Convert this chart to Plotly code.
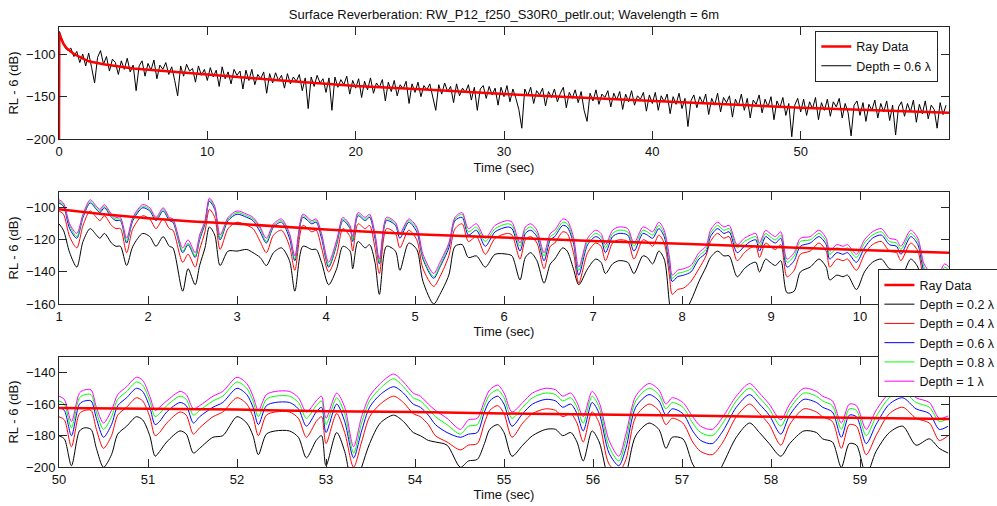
import plotly.graph_objects as go

# ---------------- Panel 1 : full record ----------------
t1_ray = [0, 0.02, 0.1, 0.3, 0.5, 1, 2, 3, 5, 7, 10, 15, 20, 25, 30, 35, 40, 45, 50, 55, 60]
rl1_ray = [-200, -75, -80, -88, -93, -100, -108.5, -112, -117, -120, -124, -131, -137.5,
           -142, -147, -151, -155, -159, -163, -166, -169]

t1_step = 0.2
rl1_depth06 = [
    # 0 - 10 s
    -73, -82, -92, -96, -93, -103, -97, -110, -100, -114,
    -99, -116, -134, -104, -96, -112, -103, -120, -106, -110,
    -124, -108, -118, -105, -121, -113, -143, -114, -108, -126,
    -111, -119, -107, -129, -113, -118, -110, -124, -115, -131,
    -149, -114, -126, -112, -120, -117, -133, -114, -125, -118,
    # 10 - 20 s
    -131, -116, -127, -119, -138, -115, -129, -121, -135, -118,
    -125, -120, -141, -119, -131, -118, -136, -124, -129, -121,
    -146, -123, -134, -122, -131, -125, -140, -123, -135, -127,
    -132, -124, -143, -128, -164, -127, -138, -125, -134, -129,
    -145, -128, -166, -127, -139, -130, -136, -126, -147, -131,
    # 20 - 30 s
    -140, -129, -151, -132, -142, -128, -146, -134, -139, -130,
    -155, -133, -144, -131, -149, -136, -141, -132, -158, -135,
    -145, -133, -150, -137, -142, -135, -152, -166, -136, -147,
    -134, -144, -138, -157, -135, -149, -140, -145, -136, -154,
    -139, -166, -141, -137, -152, -138, -148, -140, -160, -139,
    # 30 - 40 s
    -150, -137, -156, -141, -152, -165, -187, -141, -149, -139,
    -158, -143, -148, -140, -161, -144, -151, -141, -156, -146,
    -139, -163, -145, -152, -142, -157, -144, -166, -179, -146,
    -155, -142, -159, -147, -151, -143, -162, -146, -154, -144,
    -165, -147, -156, -143, -160, -149, -153, -145, -167, -148,
    # 40 - 50 s
    -158, -145, -166, -149, -156, -147, -170, -150, -159, -146,
    -164, -152, -185, -155, -148, -163, -150, -158, -147, -171,
    -152, -160, -146, -168, -151, -157, -149, -174, -153, -161,
    -147, -166, -152, -175, -154, -159, -148, -169, -153, -162,
    -150, -177, -155, -163, -151, -172, -158, -197, -160, -152,
    # 50 - 60 s
    -168, -153, -172, -156, -164, -151, -177, -157, -166, -153,
    -173, -156, -162, -152, -175, -158, -169, -196, -160, -155,
    -172, -157, -179, -159, -166, -154, -175, -158, -168, -155,
    -178, -160, -195, -162, -156, -173, -158, -168, -154, -180,
    -159, -170, -155, -176, -160, -165, -187, -157, -171, -160,
]
t1 = [round(i * t1_step, 2) for i in range(len(rl1_depth06))]

# ---------------- Panel 2 : 1 - 11 s ----------------
t2 = [1.00, 1.05, 1.12, 1.20, 1.27, 1.35, 1.42, 1.46, 1.51, 1.59,
      1.64, 1.69, 1.76, 1.83, 1.94, 2.02, 2.09, 2.17, 2.24, 2.28,
      2.39, 2.45, 2.53, 2.58, 2.64, 2.69, 2.75, 2.81, 2.90, 3.00,
      3.11, 3.18, 3.26, 3.33, 3.41, 3.50, 3.59, 3.65, 3.74, 3.84,
      3.89, 3.95, 4.03, 4.12, 4.19, 4.27, 4.30, 4.36, 4.44, 4.49,
      4.55, 4.60, 4.68, 4.78, 4.83, 4.93, 5.02, 5.09, 5.21, 5.28,
      5.38, 5.45, 5.53, 5.60, 5.69, 5.79, 5.90, 6.04, 6.09, 6.18,
      6.24, 6.30, 6.37, 6.45, 6.52, 6.57, 6.66, 6.71, 6.78, 6.84,
      6.94, 7.03, 7.09, 7.14, 7.22, 7.29, 7.39, 7.46, 7.56, 7.61,
      7.67, 7.74, 7.80, 7.86, 7.89, 7.95, 8.02, 8.10, 8.19, 8.27,
      8.32, 8.40, 8.47, 8.53, 8.62, 8.70, 8.77, 8.83, 8.87, 8.94,
      8.99, 9.05, 9.11, 9.18, 9.26, 9.33, 9.44, 9.54, 9.62, 9.66,
      9.74, 9.81, 9.86, 9.96, 10.05, 10.14, 10.24, 10.33, 10.41, 10.46,
      10.57, 10.65, 10.72, 10.80, 10.87, 10.95, 11.00]

rl2_d02 = [-110, -114, -128, -137, -121, -113, -117, -119, -116, -122,
           -124, -124, -136, -124, -116, -118, -124, -118, -124, -125,
           -152, -138, -148, -136, -125, -112, -117, -136, -127, -127,
           -126, -128, -131, -136, -128, -125, -133, -152, -124, -126,
           -126, -134, -148, -138, -124, -127, -138, -121, -125, -123,
           -134, -154, -124, -127, -139, -122, -126, -146, -160, -154,
           -142, -124, -123, -131, -130, -137, -129, -129, -130, -145,
           -131, -128, -133, -147, -135, -132, -125, -127, -138, -148,
           -138, -132, -134, -141, -135, -133, -134, -141, -130, -131,
           -135, -127, -132, -160, -170, -170, -166, -158, -146, -137,
           -131, -127, -130, -130, -143, -138, -135, -134, -140, -132,
           -134, -136, -133, -153, -152, -140, -137, -132, -137, -145,
           -142, -143, -142, -151, -140, -134, -132, -138, -139, -144,
           -132, -137, -155, -160, -162, -155, -157]
rl2_d04 = [-102, -104, -118, -125, -111, -102, -106, -108, -105, -111,
           -113, -113, -128, -113, -105, -107, -113, -107, -113, -114,
           -134, -129, -137, -126, -115, -101, -106, -126, -113, -109,
           -111, -113, -121, -128, -117, -114, -124, -139, -111, -115,
           -114, -125, -140, -129, -113, -118, -127, -110, -113, -111,
           -125, -141, -113, -116, -125, -114, -120, -138, -149, -143,
           -130, -113, -110, -121, -118, -129, -119, -116, -117, -132,
           -120, -118, -122, -138, -124, -122, -115, -116, -128, -147,
           -128, -122, -124, -133, -122, -120, -121, -132, -120, -121,
           -124, -117, -122, -143, -154, -151, -150, -146, -138, -130,
           -121, -116, -119, -118, -133, -128, -125, -124, -131, -122,
           -124, -126, -123, -143, -139, -129, -127, -122, -127, -137,
           -132, -133, -132, -139, -129, -123, -121, -127, -128, -133,
           -122, -127, -145, -151, -153, -145, -147]
rl2_d06 = [-97, -99, -113, -119, -106, -97, -101, -103, -100, -106,
           -108, -108, -122, -108, -100, -102, -108, -102, -108, -109,
           -128, -123, -131, -120, -110, -96, -101, -120, -108, -104,
           -106, -108, -115, -122, -112, -109, -119, -133, -106, -110,
           -109, -119, -137, -123, -108, -113, -121, -105, -108, -106,
           -119, -135, -108, -111, -119, -109, -115, -132, -144, -137,
           -125, -108, -106, -117, -114, -124, -115, -112, -113, -127,
           -116, -114, -118, -133, -120, -118, -111, -112, -122, -142,
           -123, -118, -120, -128, -118, -116, -117, -127, -116, -117,
           -119, -113, -118, -137, -146, -143, -142, -140, -132, -128,
           -118, -113, -116, -115, -128, -124, -121, -120, -127, -118,
           -120, -122, -119, -137, -133, -124, -122, -118, -123, -132,
           -128, -129, -128, -134, -125, -119, -117, -123, -124, -129,
           -118, -123, -140, -146, -148, -140, -142]
rl2_d08 = [-96, -98, -111, -118, -105, -96, -100, -102, -99, -105,
           -107, -107, -121, -107, -99, -101, -107, -101, -107, -108,
           -127, -122, -130, -119, -109, -95, -100, -119, -107, -103,
           -105, -107, -113, -121, -111, -108, -117, -132, -105, -109,
           -108, -117, -136, -122, -107, -112, -120, -104, -107, -105,
           -117, -134, -107, -110, -117, -108, -113, -131, -143, -136,
           -123, -107, -104, -115, -112, -121, -113, -110, -111, -124,
           -114, -112, -116, -130, -118, -116, -109, -110, -120, -139,
           -121, -116, -118, -125, -116, -114, -115, -124, -114, -115,
           -117, -111, -116, -134, -144, -141, -140, -138, -130, -126,
           -116, -111, -114, -113, -125, -121, -119, -118, -124, -116,
           -118, -120, -117, -134, -130, -121, -120, -116, -121, -129,
           -125, -126, -125, -131, -122, -117, -115, -121, -122, -126,
           -116, -121, -137, -143, -145, -137, -139]
rl2_d10 = [-95, -97, -110, -116, -104, -95, -99, -101, -98, -104,
           -106, -106, -119, -106, -98, -100, -106, -100, -106, -107,
           -125, -120, -128, -117, -108, -94, -99, -117, -106, -102,
           -104, -106, -112, -119, -110, -107, -116, -130, -104, -108,
           -107, -116, -134, -120, -106, -111, -118, -103, -106, -104,
           -116, -132, -106, -109, -116, -107, -112, -129, -141, -134,
           -122, -106, -103, -113, -110, -119, -111, -108, -109, -122,
           -112, -110, -114, -128, -116, -114, -107, -108, -118, -137,
           -119, -114, -116, -123, -114, -112, -113, -122, -112, -113,
           -115, -109, -114, -131, -142, -139, -138, -136, -128, -124,
           -114, -109, -112, -111, -123, -119, -117, -116, -122, -114,
           -116, -118, -115, -132, -128, -119, -118, -114, -119, -127,
           -123, -124, -123, -129, -120, -115, -113, -119, -120, -124,
           -114, -119, -135, -141, -143, -135, -137]
t2_ray = [1, 1.5, 2, 2.5, 3, 4, 5, 6, 7, 8, 9, 10, 11]
rl2_ray = [-101, -104, -106.5, -108.5, -110, -113.5, -116.5, -118.7, -120.7, -122.5,
           -124.5, -126.3, -128]

# ---------------- Panel 3 : 50 - 60 s ----------------
t3 = [50.00, 50.06, 50.14, 50.23, 50.29, 50.36, 50.42, 50.50, 50.59, 50.66,
      50.76, 50.87, 50.94, 51.02, 51.08, 51.13, 51.21, 51.36, 51.43, 51.51,
      51.58, 51.73, 51.84, 52.00, 52.11, 52.18, 52.24, 52.33, 52.43, 52.59,
      52.69, 52.78, 52.89, 52.95, 53.00, 53.12, 53.21, 53.31, 53.40, 53.49,
      53.61, 53.76, 53.87, 53.98, 54.06, 54.15, 54.23, 54.36, 54.51, 54.60,
      54.70, 54.78, 54.84, 54.93, 55.00, 55.09, 55.21, 55.32, 55.47, 55.58,
      55.66, 55.75, 55.82, 55.89, 55.99, 56.07, 56.18, 56.29, 56.37, 56.48,
      56.63, 56.74, 56.82, 56.89, 57.01, 57.12, 57.21, 57.34, 57.46, 57.61,
      57.76, 57.87, 57.98, 58.11, 58.21, 58.37, 58.51, 58.58, 58.69, 58.79,
      58.88, 58.96, 59.07, 59.18, 59.33, 59.48, 59.63, 59.78, 59.89, 59.99]

rl3_d02 = [-180, -182, -199, -177, -175, -176, -188, -200, -192, -179,
           -174, -168, -170, -180, -193, -190, -184, -177, -179, -191,
           -188, -181, -180, -168, -172, -180, -192, -179, -177, -177,
           -181, -194, -183, -180, -199, -178, -190, -215, -200, -185,
           -172, -167, -171, -178, -180, -183, -184, -186, -200, -196,
           -195, -185, -176, -173, -178, -193, -186, -180, -176, -176,
           -180, -178, -184, -196, -177, -184, -208, -215, -205, -180,
           -172, -176, -188, -181, -182, -198, -205, -210, -198, -181,
           -172, -178, -185, -193, -185, -177, -178, -182, -184, -200,
           -185, -186, -205, -190, -178, -174, -186, -182, -188, -191]
rl3_d04 = [-168, -170, -187, -166, -164, -164, -176, -188, -180, -167,
           -162, -156, -158, -168, -180, -178, -172, -165, -167, -179,
           -175, -168, -165, -156, -160, -168, -180, -167, -165, -165,
           -169, -181, -171, -168, -185, -166, -178, -200, -184, -168,
           -160, -155, -159, -166, -168, -173, -180, -184, -189, -186,
           -185, -172, -164, -161, -166, -181, -172, -166, -163, -164,
           -168, -166, -172, -184, -165, -172, -198, -203, -195, -168,
           -160, -164, -173, -169, -172, -184, -190, -192, -184, -168,
           -160, -166, -173, -186, -173, -163, -165, -168, -171, -188,
           -173, -174, -192, -180, -166, -162, -169, -172, -183, -180]
rl3_d06 = [-162, -164, -180, -160, -158, -158, -169, -181, -173, -161,
           -156, -150, -152, -162, -173, -171, -165, -159, -161, -172,
           -168, -162, -159, -150, -154, -162, -173, -161, -159, -159,
           -163, -174, -165, -162, -178, -160, -171, -194, -177, -162,
           -154, -149, -153, -160, -162, -167, -173, -178, -181, -179,
           -178, -165, -158, -155, -160, -174, -166, -160, -157, -158,
           -162, -160, -166, -177, -159, -166, -191, -199, -188, -162,
           -154, -158, -167, -163, -166, -177, -183, -185, -177, -162,
           -154, -160, -167, -179, -167, -157, -159, -162, -165, -181,
           -167, -168, -185, -173, -160, -156, -163, -166, -176, -174]
rl3_d08 = [-158, -160, -175, -156, -154, -154, -165, -176, -168, -157,
           -152, -146, -148, -158, -168, -166, -161, -155, -157, -167,
           -164, -158, -155, -146, -150, -158, -168, -157, -155, -155,
           -159, -169, -161, -158, -173, -156, -166, -191, -172, -158,
           -150, -144, -149, -156, -158, -163, -168, -173, -179, -174,
           -173, -161, -154, -151, -156, -169, -162, -156, -153, -154,
           -158, -156, -162, -172, -155, -162, -187, -196, -183, -158,
           -150, -154, -163, -159, -162, -172, -178, -180, -172, -158,
           -150, -156, -163, -174, -163, -153, -155, -158, -161, -176,
           -163, -164, -180, -168, -156, -152, -159, -162, -171, -169]
rl3_d10 = [-155, -157, -171, -153, -151, -151, -162, -172, -164, -154,
           -149, -143, -145, -155, -164, -162, -158, -152, -154, -163,
           -161, -155, -152, -143, -147, -155, -164, -154, -152, -152,
           -156, -165, -158, -155, -169, -153, -162, -187, -168, -155,
           -147, -141, -146, -153, -155, -160, -164, -169, -176, -170,
           -169, -158, -151, -148, -153, -165, -159, -153, -150, -151,
           -155, -153, -159, -168, -152, -159, -183, -193, -179, -155,
           -147, -151, -160, -156, -159, -168, -174, -176, -168, -155,
           -147, -153, -160, -170, -160, -150, -152, -155, -158, -172,
           -160, -161, -176, -164, -153, -149, -156, -159, -169, -167.5]
t3_ray = [50, 51, 52, 53, 54, 55, 56, 57, 58, 59, 60]
rl3_ray = [-162.5, -163, -163.5, -164.5, -165, -166, -166.5, -167.3, -168, -168.8, -169.5]

depth_names = ["Depth = 0.2 λ", "Depth = 0.4 λ", "Depth = 0.6 λ", "Depth = 0.8 λ", "Depth = 1 λ"]
depth_colors = ["#000000", "#ff0000", "#0000ff", "#00ff00", "#ff00ff"]

FONT = "Liberation Sans, Arial, sans-serif"
AX = "#262626"
TXT = "#111111"

fig = go.Figure()

# Panel 1
fig.add_trace(go.Scatter(x=t1, y=rl1_depth06, mode="lines", name="Depth = 0.6 λ",
                         line=dict(color="#000000", width=1), xaxis="x", yaxis="y",
                         legend="legend", legendrank=2))
fig.add_trace(go.Scatter(x=t1_ray, y=rl1_ray, mode="lines", name="Ray Data",
                         line=dict(color="#ff0000", width=2.5), xaxis="x", yaxis="y",
                         legend="legend", legendrank=1))

# Panel 2
for i, (vals, nm, col) in enumerate(zip([rl2_d02, rl2_d04, rl2_d06, rl2_d08, rl2_d10],
                                       depth_names, depth_colors)):
    fig.add_trace(go.Scatter(x=t2, y=vals, mode="lines", name=nm,
                             line=dict(color=col, width=1, shape="spline", smoothing=0.8),
                             xaxis="x2", yaxis="y2", legend="legend2", legendrank=2 + i))
fig.add_trace(go.Scatter(x=t2_ray, y=rl2_ray, mode="lines", name="Ray Data",
                         line=dict(color="#ff0000", width=2.5), xaxis="x2", yaxis="y2",
                         legend="legend2", legendrank=1))

# Panel 3
for vals, nm, col in zip([rl3_d02, rl3_d04, rl3_d06, rl3_d08, rl3_d10], depth_names, depth_colors):
    fig.add_trace(go.Scatter(x=t3, y=vals, mode="lines", name=nm, showlegend=False,
                             line=dict(color=col, width=1, shape="spline", smoothing=0.8),
                             xaxis="x3", yaxis="y3"))
fig.add_trace(go.Scatter(x=t3_ray, y=rl3_ray, mode="lines", name="Ray Data", showlegend=False,
                         line=dict(color="#ff0000", width=2.5), xaxis="x3", yaxis="y3"))


def xax(rng, ticks, anchor):
    return dict(range=rng, tickvals=ticks, anchor=anchor, domain=[0, 1],
                showline=True, linecolor=AX, linewidth=1, mirror="ticks",
                ticks="inside", ticklen=8, tickcolor=AX, showgrid=False, zeroline=False,
                tickfont=dict(family=FONT, size=13, color=TXT),
                title=dict(text="Time (sec)", font=dict(family=FONT, size=13, color=TXT),
                           standoff=4),
                automargin=False)


def yax(rng, ticks, anchor, dom):
    return dict(range=rng, tickvals=ticks, anchor=anchor, domain=dom,
                showline=True, linecolor=AX, linewidth=1, mirror="ticks",
                ticks="inside", ticklen=8, tickcolor=AX, showgrid=False, zeroline=False,
                tickfont=dict(family=FONT, size=13, color=TXT),
                title=dict(text="RL - 6 (dB)", font=dict(family=FONT, size=13, color=TXT),
                           standoff=4),
                automargin=False)


legend_style = dict(bgcolor="white", bordercolor=AX, borderwidth=1,
                    font=dict(family=FONT, size=12.5, color=TXT), tracegroupgap=0)

fig.update_layout(
    width=997, height=506,
    margin=dict(l=59, r=48, t=0, b=0, autoexpand=False),
    paper_bgcolor="white", plot_bgcolor="white",
    font=dict(family=FONT, size=13, color=TXT),
    title=dict(text="Surface Reverberation: RW_P12_f250_S30R0_petlr.out; Wavelength = 6m",
               x=0.5, xref="paper", xanchor="center", y=1 - 14 / 506, yref="container",
               yanchor="middle", font=dict(family=FONT, size=13, color=TXT)),
    xaxis=xax([0, 60], [0, 10, 20, 30, 40, 50], "y"),
    yaxis=yax([-200, -68], [-200, -150, -100], "x", [0.7247, 0.9472]),
    xaxis2=xax([1, 11], [1, 2, 3, 4, 5, 6, 7, 8, 9, 10], "y2"),
    yaxis2=yax([-160, -90], [-160, -140, -120, -100], "x2", [0.3992, 0.6211]),
    xaxis3=xax([50, 60], [50, 51, 52, 53, 54, 55, 56, 57, 58, 59], "y3"),
    yaxis3=yax([-200, -130], [-200, -180, -160, -140], "x3", [0.0765, 0.2951]),
    legend=dict(x=0.988, xanchor="right", y=0.939, yanchor="top", **legend_style),
    legend2=dict(x=0.9207, xanchor="left", y=0.4678, yanchor="top", **legend_style),
    showlegend=True,
)

fig.write_html("out.html", config={"displayModeBar": False},
               post_script="document.body.style.margin='0';")
